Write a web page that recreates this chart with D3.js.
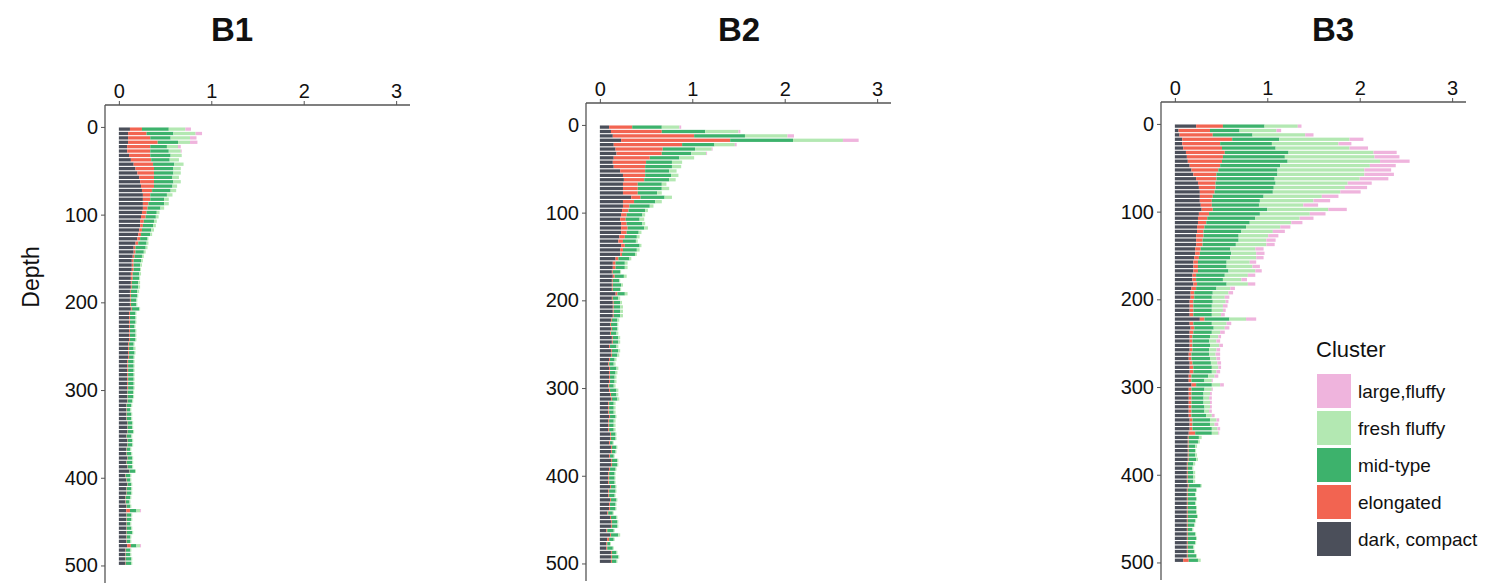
<!DOCTYPE html>
<html><head><meta charset="utf-8">
<script src="https://cdn.jsdelivr.net/npm/d3@7"></script>
<style>body{margin:0;background:#fff;}svg{display:block;font-family:"Liberation Sans",Arial,sans-serif;}</style>
</head><body>
<svg id="chart" width="1491" height="585"></svg>
<script>
const depths = [
  0,5,10,15,20,25,30,35,40,45, 50,55,60,65,70,75,80,85,90,95,
  100,105,110,115,120,125,130,135,140,145, 150,155,160,165,170,175,180,185,190,195,
  200,205,210,215,220,225,230,235,240,245, 250,255,260,265,270,275,280,285,290,295,
  300,305,310,315,320,325,330,335,340,345, 350,355,360,365,370,375,380,385,390,395,
  400,405,410,415,420,425,430,435,440,445, 450,455,460,465,470,475,480,485,490,495];
const clusters = ["dark, compact","elongated","mid-type","fresh fluffy","large,fluffy"];
const clusterColors = ["#4b4f5a","#f26451","#3db26c","#b3e8b2","#efb4dd"];
const legendOrder = ["large,fluffy","fresh fluffy","mid-type","elongated","dark, compact"];
const panelTitles = ["B1","B2","B3"];
const xTicks = [0,1,2,3];
const yTicks = [0,100,200,300,400,500];

// ---- B1 ----
const b1Dark = [
 .12,.10,.10,.10,.09,.09,.11,.13,.16,.18, .20,.22,.23,.24,.25,.26,.26,.26,.26,.25,
 .24,.23,.23,.22,.21,.20,.18,.16,.16,.15, .14,.14,.14,.13,.13,.13,.13,.12,.12,.12,
 .12,.13,.11,.11,.11,.11,.11,.11,.11,.10, .10,.10,.10,.09,.09,.09,.09,.09,.09,.09,
 .09,.09,.09,.08,.08,.08,.08,.09,.09,.09, .08,.09,.09,.08,.08,.09,.08,.09,.11,.07,
 .08,.09,.08,.08,.07,.07,.08,.08,.08,.08, .08,.08,.08,.08,.08,.09,.07,.07,.07,.07];
const b1Elong = [
 .13,.20,.24,.32,.25,.25,.23,.22,.21,.20, .18,.16,.15,.14,.11,.08,.08,.06,.05,.05,
 .05,.04,.03,.03,.03,.03,.03,.02,.02,.02, .02,.02,.02,.02,.02,.01,.01,.01,.01,.01,
 .01,.01,.01,.01,.01,.01,.01,.01,.01,.01, .01,.01,.01,.01,.01,.01,.01,.01,.01,.01,
 .005,.005,.005,.005,.005,.005,.005,.005,.005,.005, .005,.005,.005,.005,.005,.005,.005,.005,.005,.005,
 .005,.005,.005,.005,.005,.005,.005,.04,.005,.005, .005,.005,.005,.005,.005,.04,.005,.005,.005,.005];
const b1Mid = [
 .29,.29,.22,.22,.18,.20,.22,.20,.23,.21, .21,.20,.21,.20,.20,.18,.15,.17,.14,.11,
 .11,.11,.11,.10,.10,.08,.09,.11,.09,.08, .08,.07,.07,.07,.07,.07,.07,.07,.07,.06,
 .06,.08,.06,.06,.06,.05,.06,.06,.06,.05, .05,.06,.05,.06,.06,.06,.06,.06,.06,.06,
 .06,.06,.05,.05,.04,.05,.05,.05,.05,.06, .05,.05,.05,.04,.05,.05,.06,.05,.06,.05,
 .04,.04,.05,.05,.05,.04,.04,.07,.05,.05, .04,.05,.06,.04,.04,.06,.05,.05,.06,.06];
const b1Fresh = [
 .18,.24,.21,.13,.12,.13,.12,.10,.10,.08, .08,.07,.08,.05,.06,.06,.05,.05,.04,.03,
 .03,.03,.03,.03,.02,.01,.02,.02,.02,.02, .02,.02,.01,.02,.01,.02,.02,.02,.01,.01,
 .01,.01,.01,.01,.01,.01,.01,.01,.01,.01, .02,.01,.01,.01,.01,.01,.01,.01,.01,.01,
 .01,.01,.01,.01,.01,.01,.01,.01,.01,.01, .01,.01,.01,.01,.01,.01,.01,.01,.01,.01,
 .01,.01,.01,.01,.01,.01,.01,.04,.01,.01, .01,.01,.01,.01,.01,.04,.01,.01,.01,.01];
const b1Large = [
 .06,.07,.07,.08,.03,.01,0,0,0,0, 0,0,0,0,0,0,0,0,0,0,
 0,0,0,0,0,0,0,0,0,0, 0,0,0,0,0,0,0,0,0,0,
 0,0,0,0,0,0,0,0,0,0, 0,0,0,0,0,0,0,0,0,0,
 0,0,0,0,0,0,0,0,0,0, 0,0,0,0,0,0,0,0,0,0,
 0,0,0,0,0,0,0,.01,0,0, 0,0,0,0,0,.01,0,0,0,0];

// ---- B2 ----
const b2Dark = [
 .10,.12,.14,.23,.15,.17,.18,.15,.14,.15, .22,.25,.26,.25,.25,.25,.34,.25,.25,.24,
 .23,.22,.23,.23,.23,.21,.20,.23,.22,.22, .17,.14,.14,.13,.14,.13,.13,.13,.17,.13,
 .14,.14,.14,.14,.12,.11,.12,.11,.13,.13, .10,.12,.12,.10,.09,.10,.10,.10,.10,.09,
 .10,.11,.12,.09,.09,.09,.10,.09,.09,.09, .11,.11,.10,.12,.12,.10,.12,.12,.10,.09,
 .09,.09,.11,.09,.09,.11,.10,.10,.08,.11, .12,.12,.07,.11,.08,.07,.07,.12,.12,.12];
const b2Elong = [
 .25,.55,.88,1.18,.74,.51,.49,.39,.36,.34, .27,.24,.22,.16,.16,.16,.10,.12,.07,.07,
 .06,.06,.06,.07,.06,.06,.05,.04,.03,.02, .03,.03,.03,.01,.02,.01,.01,.01,.02,.01,
 .01,.01,.01,.01,.01,.01,.01,.01,.01,.01, .01,.01,.01,.01,.01,.01,.01,.01,.01,.01,
 .01,.01,.01,.01,.01,.01,.01,.01,.01,.01, .01,.01,.01,.01,.01,.01,.01,.01,.01,.01,
 .01,.01,.01,.01,.01,.01,.01,.01,.01,.01, .01,.01,.01,.01,.02,.01,.01,.01,.01,.01];
const b2Mid = [
 .32,.47,.55,.68,.35,.35,.32,.32,.28,.29, .26,.28,.27,.26,.26,.21,.26,.23,.22,.18,
 .17,.15,.17,.18,.13,.13,.14,.16,.15,.14, .12,.10,.10,.08,.10,.07,.09,.08,.08,.06,
 .07,.07,.07,.07,.06,.07,.06,.06,.06,.06, .07,.07,.06,.05,.05,.07,.06,.05,.05,.05,
 .07,.06,.06,.05,.05,.05,.06,.05,.05,.05, .05,.05,.03,.05,.04,.04,.06,.06,.06,.06,
 .06,.06,.05,.07,.06,.06,.06,.06,.05,.06, .06,.06,.07,.08,.05,.03,.06,.05,.07,.05];
const b2Fresh = [
 .19,.36,.46,.54,.22,.18,.16,.16,.11,.10, .08,.08,.07,.05,.08,.05,.08,.07,.04,.03,
 .03,.05,.03,.04,.03,.03,.02,.02,.03,.02, .02,.03,.03,.01,.03,.01,.02,.01,.03,.02,
 .02,.03,.03,.03,.02,.01,.01,.02,.02,.02, .02,.02,.02,.02,.02,.02,.02,.02,.02,.02,
 .02,.02,.02,.02,.02,.02,.01,.02,.02,.02, .01,.01,.01,.01,.01,.01,.01,.01,.01,.01,
 .01,.01,.01,.01,.01,.01,.01,.01,.01,.01, .01,.01,.01,.02,.01,.01,.01,.01,.01,.01];
const b2Large = [
 .02,.02,.07,.17,.02,.01,.01,0,0,0, 0,0,0,0,0,0,0,0,0,0,
 0,0,0,0,0,0,0,0,0,0, 0,0,0,0,0,0,0,0,0,0,
 0,0,0,0,0,0,0,0,0,0, 0,0,0,0,0,0,0,0,0,0,
 0,0,0,0,0,0,0,0,0,0, 0,0,0,0,0,0,0,0,0,0,
 0,0,0,0,0,0,0,0,0,0, 0,0,0,0,0,0,0,0,0,0];

// ---- B3 ----
const b3Dark = [
 .23,.04,.05,.08,.08,.09,.12,.13,.14,.16, .18,.20,.23,.25,.26,.27,.27,.27,.28,.29,
 .26,.25,.25,.24,.24,.23,.23,.23,.22,.22, .21,.20,.20,.20,.19,.19,.20,.18,.17,.17,
 .16,.16,.16,.16,.27,.16,.17,.16,.16,.16, .16,.16,.15,.15,.16,.16,.16,.15,.15,.18,
 .15,.15,.15,.15,.15,.15,.15,.16,.16,.16, .15,.14,.14,.14,.14,.14,.14,.13,.13,.13,
 .13,.13,.14,.13,.13,.13,.13,.13,.13,.13, .13,.13,.13,.13,.13,.13,.13,.13,.13,.09];
const b3Elong = [
 .29,.34,.36,.54,.41,.42,.42,.39,.37,.33, .29,.25,.22,.19,.18,.16,.14,.13,.12,.12,
 .11,.10,.09,.08,.07,.08,.07,.07,.06,.05, .05,.05,.05,.05,.04,.04,.04,.05,.04,.04,
 .04,.04,.04,.04,.05,.04,.04,.04,.03,.03, .03,.03,.03,.03,.03,.04,.04,.03,.03,.05,
 .03,.03,.03,.03,.03,.03,.03,.03,.03,.03, .07,.01,.01,.01,.01,.01,.01,.01,.01,.01,
 .01,.01,.01,.01,.01,.01,.01,.01,.01,.01, .01,.01,.01,.01,.01,.01,.01,.01,.01,.06];
const b3Mid = [
 .45,.32,.43,.51,.56,.58,.69,.67,.71,.65, .64,.66,.63,.65,.63,.63,.55,.52,.51,.59,
 .55,.52,.47,.45,.41,.38,.39,.36,.32,.34, .34,.31,.31,.33,.31,.29,.32,.22,.20,.19,
 .21,.20,.20,.20,.27,.20,.21,.20,.19,.18, .19,.18,.19,.20,.20,.20,.20,.18,.14,.17,
 .14,.13,.13,.13,.14,.14,.16,.19,.19,.21, .18,.11,.10,.07,.07,.07,.08,.06,.05,.06,
 .06,.06,.13,.09,.08,.09,.08,.09,.09,.10, .08,.07,.05,.08,.09,.08,.06,.07,.09,.10];
const b3Fresh = [
 .36,.40,.57,.76,.72,.80,.92,.97,1.00,.97, .94,.94,.92,.78,.77,.73,.63,.58,.48,.66,
 .54,.48,.45,.37,.34,.32,.30,.33,.27,.27, .28,.25,.28,.29,.25,.20,.23,.15,.17,.14,
 .14,.12,.12,.10,.18,.16,.12,.09,.09,.08, .10,.08,.07,.07,.07,.07,.05,.07,.08,.09,
 .08,.07,.06,.07,.06,.05,.06,.07,.05,.06, .07,.03,.02,.02,.01,.02,.02,.02,.01,.02,
 .02,.02,.01,.01,.01,.01,.01,.01,.01,.01, .01,.01,.01,.01,.01,.01,.01,.01,.01,.03];
const b3Large = [
 .04,.05,.09,.15,.14,.20,.25,.27,.32,.28, .29,.32,.31,.26,.24,.22,.18,.18,.16,.20,
 .17,.15,.12,.11,.13,.11,.10,.09,.09,.09, .08,.07,.08,.07,.08,.06,.08,.05,.05,.05,
 .03,.05,.03,.04,.11,.05,.05,.05,.03,.04, .04,.04,.05,.04,.04,.03,.04,.04,.01,.04,
 .01,.02,.03,.02,.02,.03,.03,.03,.04,.03, .01,0,0,0,0,0,0,0,0,0,
 0,0,0,0,0,0,0,0,0,0, 0,0,0,0,0,0,0,0,0,0];

const panelSeries = [
  [b1Dark,b1Elong,b1Mid,b1Fresh,b1Large],
  [b2Dark,b2Elong,b2Mid,b2Fresh,b2Large],
  [b3Dark,b3Elong,b3Mid,b3Fresh,b3Large]
];

// layout
const panels = [
  {left:105, top:105, titleX:232},
  {left:586, top:103, titleX:739},
  {left:1161, top:102, titleX:1333}
];
const plotW = 305, plotH = 478;

const svg = d3.select("#chart");
const color = d3.scaleOrdinal().domain(clusters).range(clusterColors);

panels.forEach((p, pi) => {
  const g = svg.append("g").attr("transform", `translate(${p.left},${p.top})`);
  const x = d3.scaleLinear().domain([-0.15, 3.15]).range([0, plotW]);
  const y = d3.scaleLinear().domain([-25, 520]).range([0, plotH]);
  const series = panelSeries[pi];
  const rows = depths.map((d, i) => {
    const r = {depth: d};
    clusters.forEach((c, k) => r[c] = series[k][i]);
    return r;
  });
  const stacked = d3.stack().keys(clusters)(rows);
  g.selectAll("g.layer").data(stacked).join("g")
    .attr("class","layer")
    .attr("fill", d => color(d.key))
    .selectAll("rect").data(d => d).join("rect")
    .attr("x", d => x(d[0]))
    .attr("width", d => Math.max(0, x(d[1]) - x(d[0])))
    .attr("y", d => y(d.data.depth) + 0.55)
    .attr("height", d => y(d.data.depth + 5) - y(d.data.depth) - 1.1);

  // top axis
  const xa = g.append("g").call(d3.axisTop(x).tickValues(xTicks).tickSize(4).tickPadding(3).tickFormat(d3.format("d")));
  xa.select(".domain").attr("stroke","#555").attr("stroke-width",1.3).attr("d", `M0,0H${plotW}`);
  xa.selectAll(".tick line").attr("stroke","#555");
  xa.selectAll("text").attr("font-size",20).attr("fill","#111");

  const ya = g.append("g").call(d3.axisLeft(y).tickValues(yTicks).tickSize(4).tickPadding(3));
  ya.select(".domain").attr("stroke","#555").attr("stroke-width",1.3).attr("d", `M0,0V${plotH}`);
  ya.selectAll(".tick line").attr("stroke","#555");
  ya.selectAll("text").attr("font-size",20).attr("fill","#111");

  svg.append("text").attr("x", p.titleX).attr("y", 41).attr("text-anchor","middle")
    .attr("font-size",33).attr("font-weight","bold").attr("fill","#111").text(panelTitles[pi]);
});

svg.append("text").attr("transform","translate(39,277) rotate(-90)")
  .attr("text-anchor","middle").attr("font-size",23).attr("fill","#111").text("Depth");

// legend
const lg = svg.append("g").attr("transform","translate(1317,357)");
lg.append("text").attr("x",-1).attr("y",0).attr("font-size",22).attr("fill","#111").text("Cluster");
legendOrder.forEach((c, i) => {
  lg.append("rect").attr("x",0).attr("y",17 + i*37).attr("width",34).attr("height",34).attr("fill", color(c));
  lg.append("text").attr("x",41).attr("y",17 + i*37 + 17).attr("dy","0.35em")
    .attr("font-size",19).attr("fill","#111").text(c);
});
</script>
</body></html>
